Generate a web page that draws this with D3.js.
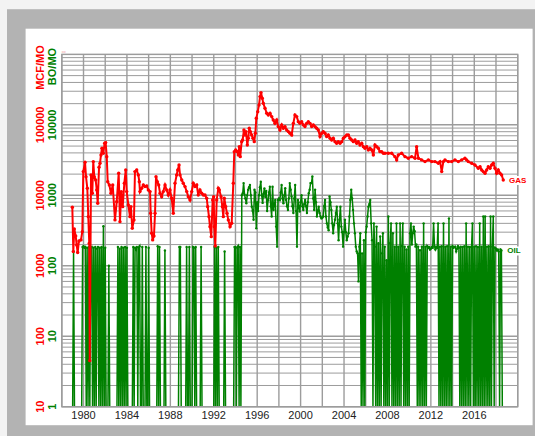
<!DOCTYPE html>
<html>
<head>
<meta charset="utf-8">
<script src="https://cdn.jsdelivr.net/npm/d3@7"></script>
<style>
body { margin: 0; background: #f3f3f3; }
svg { display: block; font-family: "Liberation Sans", Arial, sans-serif; }
</style>
</head>
<body>
<div id="chart"></div>
<script>
// gas production: decimal year and MCF per month
const gasYears = [
  1978.97, 1979.06, 1979.15, 1979.28, 1979.37, 1979.46, 1979.58, 1979.77, 1979.89, 1979.98,
  1980.14, 1980.23, 1980.35, 1980.44, 1980.53, 1980.58, 1980.69, 1980.81, 1980.90, 1980.99,
  1981.12, 1981.22, 1981.31, 1981.43, 1981.52, 1981.61, 1981.70, 1981.82, 1981.95, 1982.04,
  1982.14, 1982.23, 1982.38, 1982.53, 1982.69, 1982.90, 1983.06, 1983.24, 1983.36, 1983.48,
  1983.61, 1983.76, 1983.89, 1983.98, 1984.13, 1984.28, 1984.37, 1984.49, 1984.65, 1984.74,
  1984.90, 1985.05, 1985.14, 1985.20, 1985.36, 1985.51, 1985.66, 1985.82, 1985.97, 1986.13,
  1986.19, 1986.28, 1986.37, 1986.49, 1986.59, 1986.68, 1986.80, 1986.93, 1987.05, 1987.20,
  1987.35, 1987.51, 1987.66, 1987.81, 1987.97, 1988.12, 1988.27, 1988.43, 1988.58, 1988.68,
  1988.80, 1988.89, 1989.05, 1989.19, 1989.35, 1989.51, 1989.65, 1989.81, 1989.97, 1990.11,
  1990.27, 1990.43, 1990.57, 1990.73, 1990.89, 1991.04, 1991.19, 1991.35, 1991.44, 1991.56,
  1991.65, 1991.77, 1991.90, 1991.99, 1992.05, 1992.14, 1992.27, 1992.42, 1992.51, 1992.67,
  1992.79, 1992.88, 1992.97, 1993.10, 1993.22, 1993.34, 1993.50, 1993.65, 1993.80, 1993.89,
  1994.02, 1994.17, 1994.26, 1994.35, 1994.44, 1994.57, 1994.66, 1994.78, 1994.88, 1994.97,
  1995.09, 1995.18, 1995.27, 1995.37, 1995.49, 1995.61, 1995.73, 1995.83, 1995.92, 1996.05,
  1996.17, 1996.26, 1996.35, 1996.47, 1996.56, 1996.72, 1996.88, 1997.02, 1997.18, 1997.34,
  1997.48, 1997.64, 1997.80, 1997.94, 1998.10, 1998.26, 1998.41, 1998.56, 1998.72, 1998.87,
  1999.02, 1999.18, 1999.33, 1999.48, 1999.64, 1999.79, 1999.94, 2000.10, 2000.25, 2000.40,
  2000.56, 2000.71, 2000.87, 2001.02, 2001.17, 2001.33, 2001.48, 2001.63, 2001.79, 2001.94,
  2002.09, 2002.25, 2002.40, 2002.55, 2002.71, 2002.86, 2003.01, 2003.17, 2003.32, 2003.47,
  2003.63, 2003.79, 2003.94, 2004.09, 2004.25, 2004.40, 2004.55, 2004.71, 2004.86, 2005.01,
  2005.17, 2005.31, 2005.47, 2005.63, 2005.78, 2005.93, 2006.09, 2006.24, 2006.39, 2006.55,
  2006.70, 2006.85, 2007.01, 2007.16, 2007.31, 2007.47, 2007.62, 2007.77, 2008.08, 2008.39,
  2008.69, 2008.85, 2009.00, 2009.31, 2009.62, 2009.92, 2010.23, 2010.54, 2010.69, 2010.85,
  2011.15, 2011.46, 2011.77, 2012.08, 2012.38, 2012.69, 2012.85, 2013.00, 2013.15, 2013.30,
  2013.61, 2013.92, 2014.22, 2014.53, 2014.84, 2015.14, 2015.30, 2015.45, 2015.76, 2016.06,
  2016.37, 2016.53, 2016.68, 2016.83, 2016.99, 2017.14, 2017.29, 2017.45, 2017.60, 2017.75,
  2017.91, 2018.06, 2018.21, 2018.37, 2018.52, 2018.67
];
const gasMcf = [
  6780, 1590, 3340, 2650, 1980, 1540, 2250, 2330, 3050, 21700,
  29500, 18400, 12600, 4980, 2090, 45, 19500, 10700, 30100, 18400,
  16500, 11900, 7720, 25000, 28500, 37400, 46600, 39600, 54800, 56000,
  35400, 15600, 14000, 10700, 14000, 4480, 8130, 20600, 4230, 11300,
  6900, 14800, 22900, 11300, 7300, 4980, 6900, 3410, 4480, 21700,
  22900, 19500, 15600, 11300, 12600, 14000, 13300, 13600, 11900, 11300,
  5570, 2900, 2330, 2650, 5570, 18400, 15600, 14000, 10700, 9580,
  11300, 14000, 11900, 10100, 11900, 9100, 5570, 14800, 19500, 22900,
  27000, 19500, 16500, 14800, 13300, 11300, 9580, 8590, 11300, 14800,
  13300, 14000, 10100, 11900, 10700, 10100, 10100, 9100, 6900, 4980,
  3590, 2590, 8590, 9580, 3590, 1910, 8590, 12600, 11900, 9580,
  6900, 4980, 9100, 6900, 5570, 4480, 3590, 4020, 14800, 41700,
  44100, 41700, 37400, 49100, 35400, 57800, 61100, 84700, 71900, 80200,
  51900, 64600, 89500, 80200, 71900, 64600, 57800, 76000, 124000, 154000,
  192000, 252000, 287000, 239000, 203000, 172000, 146000, 138000, 146000, 131000,
  117000, 105000, 117000, 94400, 84700, 99800, 89500, 94400, 84700, 80200,
  76000, 71900, 105000, 138000, 131000, 111000, 105000, 111000, 99800, 94400,
  105000, 111000, 105000, 94400, 99800, 94400, 89500, 84700, 68100, 76000,
  80200, 76000, 68100, 71900, 64600, 61100, 64600, 57800, 54800, 57800,
  54800, 57800, 64600, 68100, 71900, 71900, 64600, 61100, 57800, 61100,
  54800, 57800, 51900, 54800, 49100, 46600, 49100, 44100, 46600, 44100,
  37400, 51900, 49100, 46600, 41700, 41700, 39600, 39600, 39600, 39600,
  35400, 31800, 37400, 39600, 35400, 33600, 35400, 33600, 49100, 33600,
  31800, 30100, 31800, 30100, 30100, 28500, 30100, 21700, 30100, 31800,
  30100, 30100, 31800, 30100, 31800, 33600, 31800, 30100, 28500, 27000,
  24200, 25500, 22900, 21700, 20600, 22900, 25500, 24200, 27000, 28500,
  24200, 20600, 22900, 20600, 19500, 16500
];

// oil production, BO per month, one row per year starting January 1979 (0 = no oil that month)
const oilFirstYear = 1979;
const oilBo = [
  [0, 160, 0, 0, 0, 0, 0, 0, 0, 0, 0, 185],
  [190, 180, 185, 0, 180, 0, 185, 0, 180, 185, 0, 180],
  [0, 185, 0, 175, 185, 0, 180, 0, 185, 0, 365, 0],
  [180, 0, 0, 0, 100, 0, 0, 0, 0, 0, 0, 0],
  [0, 0, 185, 0, 175, 0, 185, 0, 180, 0, 185, 0],
  [180, 0, 0, 0, 0, 0, 0, 185, 0, 180, 170, 185],
  [0, 180, 190, 0, 0, 185, 0, 0, 0, 185, 0, 0],
  [180, 0, 0, 0, 0, 0, 0, 0, 0, 0, 190, 0],
  [185, 0, 0, 0, 0, 0, 165, 0, 0, 0, 0, 0],
  [0, 0, 0, 0, 0, 0, 0, 0, 0, 0, 185, 185],
  [0, 0, 0, 0, 0, 0, 185, 0, 0, 185, 0, 0],
  [0, 185, 180, 0, 185, 0, 0, 0, 0, 0, 185, 0],
  [0, 0, 0, 0, 0, 0, 0, 0, 0, 0, 0, 0],
  [0, 185, 0, 180, 0, 185, 0, 0, 0, 0, 0, 0],
  [160, 0, 0, 0, 0, 0, 0, 0, 0, 0, 0, 185],
  [185, 0, 180, 190, 0, 185, 0, 1000, 1070, 1490, 1020, 900],
  [770, 1000, 1200, 1300, 1400, 1000, 690, 600, 450, 1200, 1100, 340],
  [800, 600, 1000, 1300, 1560, 1000, 780, 1050, 1250, 950, 1150, 600],
  [850, 1100, 1320, 700, 500, 1320, 620, 750, 860, 360, 187, 860],
  [900, 860, 1100, 1400, 900, 770, 1000, 1260, 860, 700, 620, 900],
  [1490, 1200, 960, 700, 560, 900, 1400, 600, 187, 860, 700, 590],
  [800, 1000, 700, 620, 750, 860, 700, 560, 800, 1070, 1200, 1490],
  [1490, 1850, 900, 620, 1200, 800, 500, 600, 690, 560, 500, 470],
  [480, 500, 700, 860, 500, 400, 350, 320, 960, 800, 620, 400],
  [290, 380, 450, 560, 690, 400, 230, 450, 690, 360, 300, 187],
  [300, 450, 300, 230, 260, 290, 500, 860, 1200, 900, 620, 400],
  [290, 187, 160, 150, 60, 187, 290, 0, 150, 0, 230, 0],
  [300, 360, 500, 690, 750, 860, 400, 230, 0, 400, 187, 0],
  [360, 0, 210, 0, 260, 0, 150, 290, 0, 187, 0, 120],
  [0, 500, 0, 210, 400, 0, 290, 0, 187, 0, 400, 0],
  [187, 0, 400, 0, 190, 400, 0, 187, 0, 170, 0, 187],
  [0, 290, 400, 200, 290, 360, 310, 187, 200, 0, 187, 0],
  [166, 0, 187, 0, 400, 0, 187, 0, 190, 180, 185, 170],
  [175, 185, 180, 400, 190, 170, 185, 180, 400, 0, 187, 0],
  [190, 0, 400, 0, 187, 0, 190, 0, 470, 0, 187, 0],
  [190, 180, 185, 187, 160, 175, 190, 180, 0, 187, 0, 185],
  [0, 190, 0, 400, 0, 187, 0, 185, 0, 187, 400, 0],
  [187, 0, 190, 0, 185, 0, 400, 0, 187, 0, 500, 0],
  [500, 0, 187, 0, 190, 0, 500, 0, 187, 500, 0, 180],
  [175, 165, 170, 160, 0, 170, 165, 0]
];

const xLabelYears = [1980, 1984, 1988, 1992, 1996, 2000, 2004, 2008, 2012, 2016];
const gasDecades = [10, 100, 1000, 10000, 100000];
const oilDecades = [1, 10, 100, 1000, 10000];

const W = 535, H = 436;
const plot = { left: 61.8, right: 517.7, top: 54.4, bottom: 406.7 };
const red = "#ff0000", green = "#008000", gridColor = "#9c9c9c";

let svg = d3.select("#chart").append("svg")
    .attr("width", W)
    .attr("height", H);

// page, grey frame and white panel
svg.append("rect").attr("width", W).attr("height", H).attr("fill", "#f3f3f3");
svg.append("rect").attr("x", 7).attr("y", 9.2).attr("width", W - 7).attr("height", H - 9.2).attr("fill", "#b3b3b3");
svg.append("rect").attr("x", 25.6).attr("y", 28.7).attr("width", 507).attr("height", 396.5).attr("fill", "#ffffff");

let x = d3.scaleLinear().domain([1978, 2020]).range([plot.left, plot.right]);
let yGas = d3.scaleLog().domain([10, 1e6]).range([plot.bottom, plot.top]).clamp(true);
let yOil = d3.scaleLog().domain([1, 1e5]).range([plot.bottom, plot.top]).clamp(true);

// log grid: 1..9 in each decade
let hLines = [];
gasDecades.forEach(d => { for (let k = 1; k <= 9; k++) hLines.push(k * d); });
hLines.push(1e6);

svg.append("g").selectAll("line").data(hLines).join("line")
    .attr("x1", plot.left).attr("x2", plot.right)
    .attr("y1", d => yGas(d)).attr("y2", d => yGas(d))
    .attr("stroke", gridColor)
    .attr("stroke-width", d => gasDecades.includes(d) ? 1.5 : 1);

svg.append("g").selectAll("line").data(d3.range(1978, 2021, 2)).join("line")
    .attr("x1", d => x(d)).attr("x2", d => x(d))
    .attr("y1", plot.top).attr("y2", plot.bottom)
    .attr("stroke", gridColor)
    .attr("stroke-width", 1.4);

// x axis labels
svg.append("g").selectAll("text").data(xLabelYears).join("text")
    .attr("x", d => x(d))
    .attr("y", plot.bottom + 12.4)
    .attr("text-anchor", "middle")
    .attr("font-size", 11)
    .attr("fill", "#222")
    .text(d => d);

// y axis labels, rotated
svg.append("g").selectAll("text").data(gasDecades).join("text")
    .attr("transform", d => `translate(43.5,${yGas(d)}) rotate(-90)`)
    .attr("text-anchor", "middle")
    .attr("font-size", 11).attr("font-weight", "bold")
    .attr("fill", red)
    .text(d => d);
svg.append("g").selectAll("text").data(oilDecades).join("text")
    .attr("transform", d => `translate(55.5,${yOil(d)}) rotate(-90)`)
    .attr("text-anchor", "middle")
    .attr("font-size", 11).attr("font-weight", "bold")
    .attr("fill", green)
    .text(d => d);
svg.append("text")
    .attr("transform", "translate(43.5,67.5) rotate(-90)")
    .attr("text-anchor", "middle")
    .attr("font-size", 11).attr("font-weight", "bold")
    .attr("fill", red)
    .text("MCF/MO");
svg.append("text")
    .attr("transform", "translate(55.5,66.5) rotate(-90)")
    .attr("text-anchor", "middle")
    .attr("font-size", 11).attr("font-weight", "bold")
    .attr("fill", green)
    .text("BO/MO");

// tiny pink mark at the top-left corner of the grid
svg.append("text")
    .attr("x", plot.left).attr("y", plot.top - 1.5)
    .attr("font-size", 3.5)
    .attr("fill", "#f19a9a")
    .text("oo");

svg.append("defs").append("clipPath").attr("id", "plotclip")
    .append("rect")
    .attr("x", plot.left).attr("y", plot.top - 2)
    .attr("width", plot.right - plot.left + 2).attr("height", plot.bottom - plot.top + 2);

let data = svg.append("g").attr("clip-path", "url(#plotclip)");

// oil: monthly points, zero months drop to the floor of the chart
let oil = oilBo.flat().map((v, i) => ({ t: oilFirstYear + i / 12, v: v }));
let oilLine = d3.line()
    .x(d => x(d.t))
    .y(d => yOil(Math.max(d.v, 1)));

data.append("path")
    .datum(oil)
    .attr("d", oilLine)
    .attr("fill", "none")
    .attr("stroke", green)
    .attr("stroke-width", 1.5);
data.append("g").selectAll("circle").data(oil.filter(d => d.v > 0)).join("circle")
    .attr("cx", d => x(d.t))
    .attr("cy", d => yOil(d.v))
    .attr("r", 1.2)
    .attr("fill", green);

// gas line on top
let gas = gasYears.map((t, i) => ({ t: t, v: gasMcf[i] }));
let gasLine = d3.line()
    .x(d => x(d.t))
    .y(d => yGas(d.v));

data.append("path")
    .datum(gas)
    .attr("d", gasLine)
    .attr("fill", "none")
    .attr("stroke", red)
    .attr("stroke-width", 2);
data.append("g").selectAll("circle").data(gas).join("circle")
    .attr("cx", d => x(d.t))
    .attr("cy", d => yGas(d.v))
    .attr("r", 1.7)
    .attr("fill", red);

// plot border
svg.append("rect")
    .attr("x", plot.left).attr("y", plot.top)
    .attr("width", plot.right - plot.left).attr("height", plot.bottom - plot.top)
    .attr("fill", "none")
    .attr("stroke", gridColor)
    .attr("stroke-width", 1.4);

// series labels at the last value
let lastGas = gas[gas.length - 1];
let lastOil = oil.filter(d => d.v > 0).pop();
[{ name: "GAS", color: red, y: yGas(lastGas.v) + 3, x: 509 },
 { name: "OIL", color: green, y: yOil(lastOil.v) + 3, x: 507.3 }].forEach(l => {
    svg.append("rect")
        .attr("x", l.x - 1).attr("y", l.y - 7)
        .attr("width", 20).attr("height", 9)
        .attr("fill", "#fff");
    svg.append("text")
        .attr("x", l.x).attr("y", l.y)
        .attr("font-size", 8).attr("font-weight", "bold")
        .attr("fill", l.color)
        .text(l.name);
});
</script>
</body>
</html>
